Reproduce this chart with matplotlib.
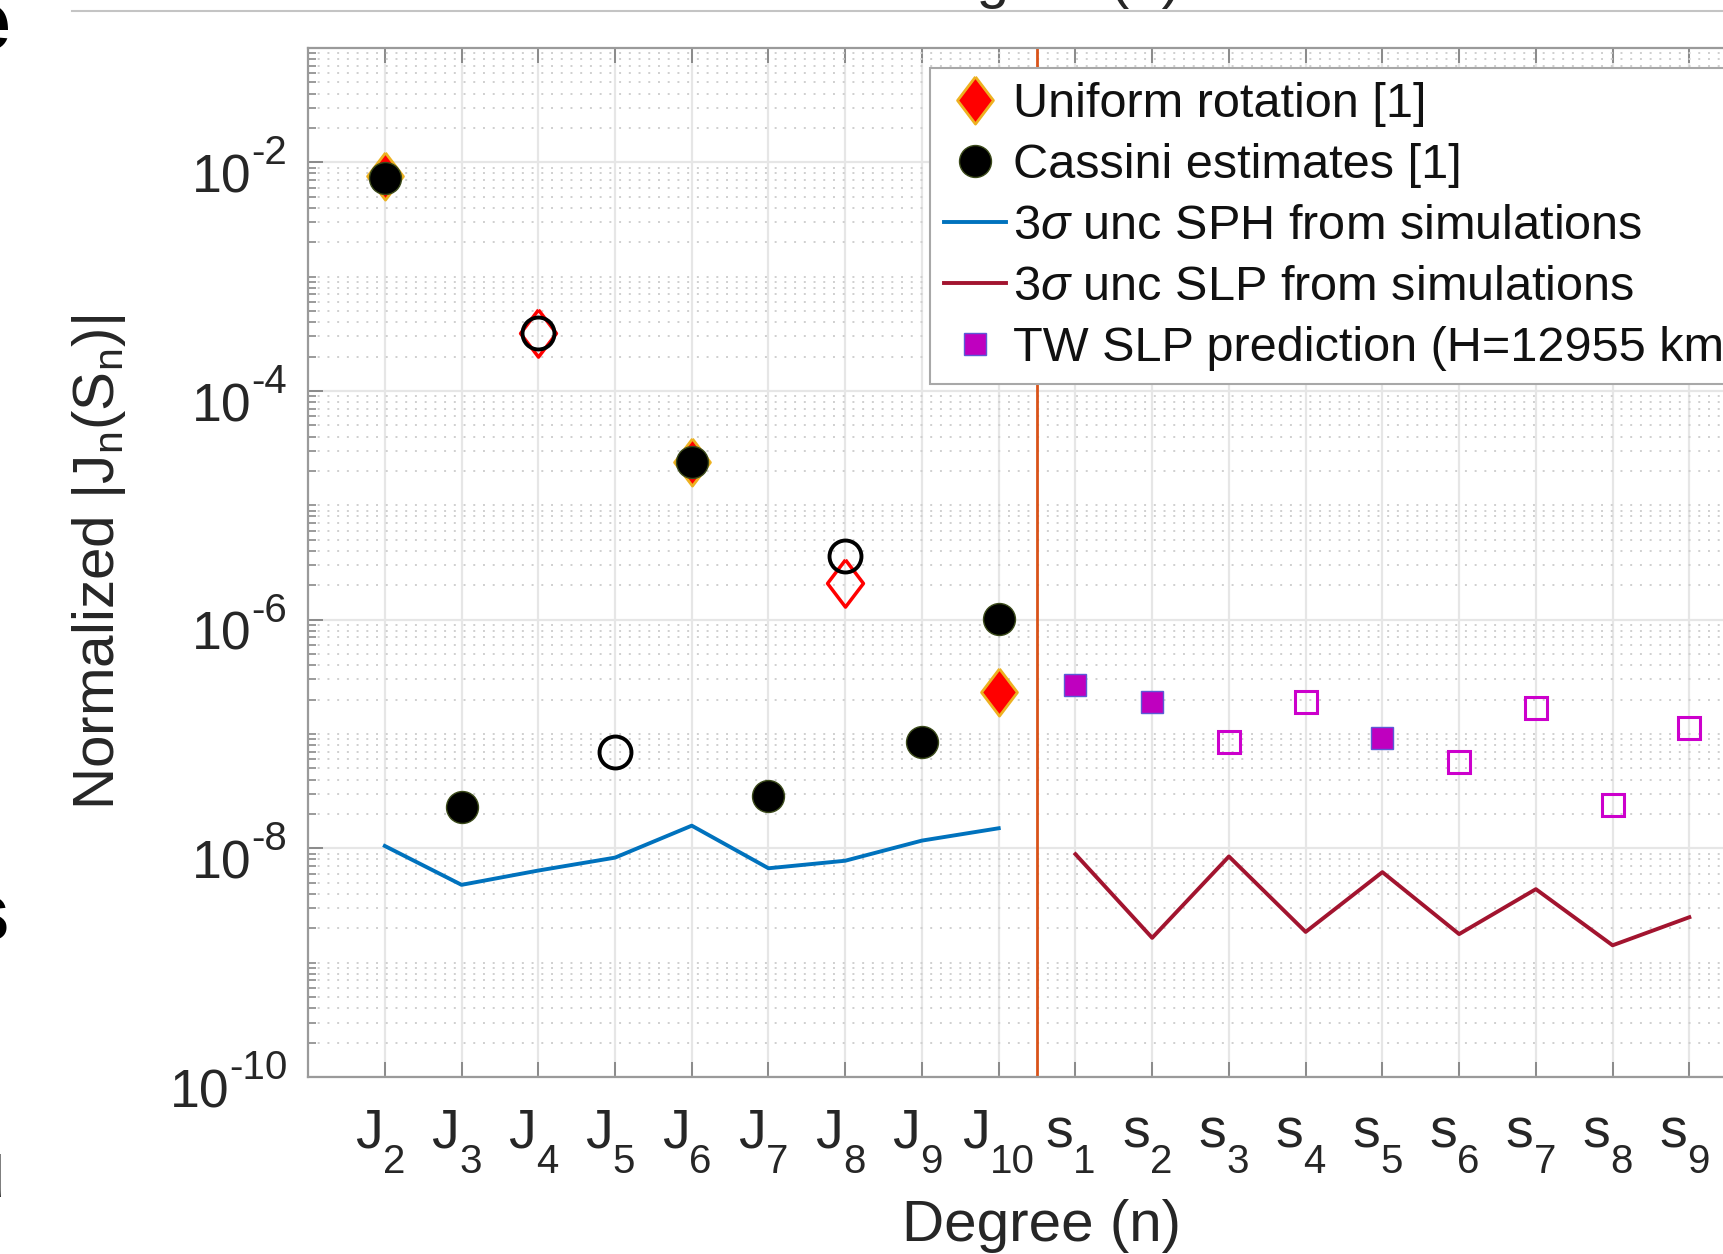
import numpy as np
import matplotlib
matplotlib.use('Agg')
import matplotlib.pyplot as plt
from matplotlib.ticker import FixedLocator, LogLocator, NullFormatter
from matplotlib.lines import Line2D
from matplotlib.transforms import blended_transform_factory, offset_copy

plt.rcParams['font.family'] = ['Liberation Sans', 'DejaVu Sans']
plt.rcParams['mathtext.fontset'] = 'custom'
plt.rcParams['mathtext.rm'] = 'Liberation Sans'
plt.rcParams['mathtext.it'] = 'Liberation Sans:italic'
plt.rcParams['mathtext.bf'] = 'Liberation Sans:bold'

nan = np.nan
dark = '#262626'

# degree labels (J2..J10 then s1..s9), letter + subscript
tick_names = ['J', 'J', 'J', 'J', 'J', 'J', 'J', 'J', 'J',
              's', 's', 's', 's', 's', 's', 's', 's', 's']
tick_subs = ['2', '3', '4', '5', '6', '7', '8', '9', '10',
             '1', '2', '3', '4', '5', '6', '7', '8', '9']
x_j = np.arange(1, 10)
x_s = np.arange(10, 19)

# negative value -> drawn as open marker
uniform = np.array([7.6e-3, nan, -3.2e-4, nan, 2.4e-5, nan, -2.1e-6, nan, 2.35e-7])
cassini = np.array([7.3e-3, 2.3e-8, -3.2e-4, -6.9e-8, 2.4e-5, 2.9e-8, -3.6e-6, 8.5e-8, 1.02e-6])
sph_unc = np.array([1.05e-8, 4.8e-9, 6.4e-9, 8.3e-9, 1.58e-8, 6.7e-9, 7.8e-9, 1.17e-8, 1.5e-8])
slp_unc = np.array([8.9e-9, 1.65e-9, 8.5e-9, 1.86e-9, 6.2e-9, 1.78e-9, 4.4e-9, 1.42e-9, 2.5e-9])
tw_slp = np.array([2.7e-7, 1.9e-7, -8.5e-8, -1.9e-7, 9.3e-8, -5.7e-8, -1.7e-7, -2.4e-8, -1.13e-7])

yticks = [1e-10, 1e-8, 1e-6, 1e-4, 1e-2]
ytick_exps = ['-10', '-8', '-6', '-4', '-2']

dia = [(0, 1), (0.76, 0), (0, -1), (-0.76, 0), (0, 1)]

fig = plt.figure(figsize=(17.24, 12.54), dpi=100)
ax = fig.add_axes([0.1787, 0.1411, 0.8457, 0.8206])

ax.set_yscale('log')
ax.set_xlim(0, 19)
ax.set_ylim(1e-10, 1e-1)

# uniform rotation diamonds
pos = uniform > 0
neg = uniform < 0
ax.plot(x_j[pos], uniform[pos], ls='none', marker=dia, ms=34, mfc='#FF0000', mec='#EDB120', mew=2, zorder=3)
ax.plot(x_j[neg], -uniform[neg], ls='none', marker=dia, ms=34, mfc='none', mec='#FF0000', mew=2.5, zorder=3)

# Cassini circles
pos = cassini > 0
neg = cassini < 0
ax.plot(x_j[pos], cassini[pos], ls='none', marker='o', ms=23, mfc='black', mec='#3b4a1a', mew=1, zorder=4)
ax.plot(x_j[neg], -cassini[neg], ls='none', marker='o', ms=23, mfc='none', mec='black', mew=2.8, zorder=4)

# uncertainty lines
ax.plot(x_j, sph_unc, color='#0072BD', lw=2.8, zorder=3)
ax.plot(x_s, slp_unc, color='#A2142F', lw=2.8, zorder=3)

# TW SLP squares
pos = tw_slp > 0
neg = tw_slp < 0
ax.plot(x_s[pos], tw_slp[pos], ls='none', marker='s', ms=16, mfc='#BF00BF', mec='#5b5bd6', mew=1, zorder=3)
ax.plot(x_s[neg], -tw_slp[neg], ls='none', marker='s', ms=16, mfc='none', mec='#CC00CC', mew=2.2, zorder=3)

ax.axvline(9.5, color='#D95319', lw=2, zorder=2)

ax.set_xticks(np.arange(1, 19))
ax.yaxis.set_major_locator(FixedLocator(yticks))
ax.yaxis.set_minor_locator(LogLocator(base=10, subs=np.arange(1, 10), numticks=100))
ax.yaxis.set_minor_formatter(NullFormatter())

ax.set_axisbelow(True)
ax.grid(True, which='major', axis='both', color='#e6e6e6', lw=1.6, ls='-')
ax.grid(True, which='minor', axis='y', color='#cfcfcf', lw=1.4, ls=(0, (1, 4)))

ax.tick_params(which='both', direction='in', top=True, right=True, color='#8a8a8a',
               labelbottom=False, labelleft=False)
ax.tick_params(axis='x', which='major', length=11, width=1.4)
ax.tick_params(axis='y', which='major', length=11, width=1.4)
ax.tick_params(axis='y', which='minor', length=5.5, width=1.2)
for s in ax.spines.values():
    s.set_color('#9a9a9a')
    s.set_linewidth(1.6)

# tick labels written MATLAB-style: big lowered subscripts / raised exponents
main_fs, sub_fs = 40, 29
tx = blended_transform_factory(ax.transData, ax.transAxes)
for xi, m, sb in zip(np.arange(1, 19), tick_names, tick_subs):
    dx = -1.65 - 4.8 * (len(sb) - 1)
    ax.text(xi, 0, m, transform=offset_copy(tx, fig=fig, x=dx, y=-50.4, units='points'),
            ha='right', va='baseline', fontsize=main_fs, color=dark)
    ax.text(xi, 0, sb, transform=offset_copy(tx, fig=fig, x=dx, y=-69, units='points'),
            ha='left', va='baseline', fontsize=sub_fs, color=dark)

base_fs, sup_fs = 38.5, 29
ty = blended_transform_factory(ax.transAxes, ax.transData)
for yv, e in zip(yticks, ytick_exps):
    w_exp = (0.333 + 0.556 * (len(e) - 1)) * sup_fs
    ax.text(0, yv, e, transform=offset_copy(ty, fig=fig, x=-15, y=-1.4, units='points'),
            ha='right', va='baseline', fontsize=sup_fs, color=dark)
    ax.text(0, yv, '10', transform=offset_copy(ty, fig=fig, x=-15 - w_exp, y=-21.6, units='points'),
            ha='right', va='baseline', fontsize=base_fs, color=dark)

ax.set_xlabel('Degree (n)', fontsize=42, color=dark)
ax.xaxis.label.set_va('center')
ax.xaxis.set_label_coords(0.503, -0.1448)
ax.set_ylabel(r'Normalized |J$_\mathrm{n}$(S$_\mathrm{n}$)|', fontsize=42, color=dark)
ax.yaxis.label.set_va('center')
ax.yaxis.set_label_coords(-0.1433, 0.5005)

handles = [
    Line2D([], [], ls='none', marker=dia, ms=34, mfc='#FF0000', mec='#EDB120', mew=2),
    Line2D([], [], ls='none', marker='o', ms=23, mfc='black', mec='#3b4a1a', mew=1),
    Line2D([], [], color='#0072BD', lw=2.8),
    Line2D([], [], color='#A2142F', lw=2.8),
    Line2D([], [], ls='none', marker='s', ms=16, mfc='#BF00BF', mec='#5b5bd6', mew=1),
]
names = ['Uniform rotation [1]', 'Cassini estimates [1]',
         r'3$\sigma$ unc SPH from simulations', r'3$\sigma$ unc SLP from simulations',
         'TW SLP prediction (H=12955 km)']
leg = ax.legend(handles, names, loc='upper left', bbox_to_anchor=(0.4266, 0.9806), fontsize=35,
                frameon=True, fancybox=False, edgecolor='#a8a8a8', framealpha=1,
                borderpad=0.28, labelspacing=0.33, handlelength=1.28, handletextpad=0.14,
                borderaxespad=0)
leg.get_frame().set_linewidth(1.5)
for t in leg.get_texts():
    t.set_color('#111111')

# fragments of the neighbouring panels cut by the crop
fig.add_artist(Line2D([72 / 1724, 1], [1 - 11 / 1254, 1 - 11 / 1254], color='#c4c4c4', lw=1.5))
fig.text(1042 / 1724, 1 + 3 / 1254, 'Degree (n)', fontsize=42, color=dark, ha='center', va='baseline')
fig.text(11 / 1724, 1 - 49 / 1254, 'e', fontsize=58, fontweight='bold', ha='right', va='baseline')
fig.text(9 / 1724, 1 - 940 / 1254, 's', fontsize=58, fontweight='bold', ha='right', va='baseline')
fig.text(6 / 1724, 1 - 1197 / 1254, 'u', fontsize=58, fontweight='bold', ha='right', va='baseline')

fig.savefig('out.png', dpi=100)
